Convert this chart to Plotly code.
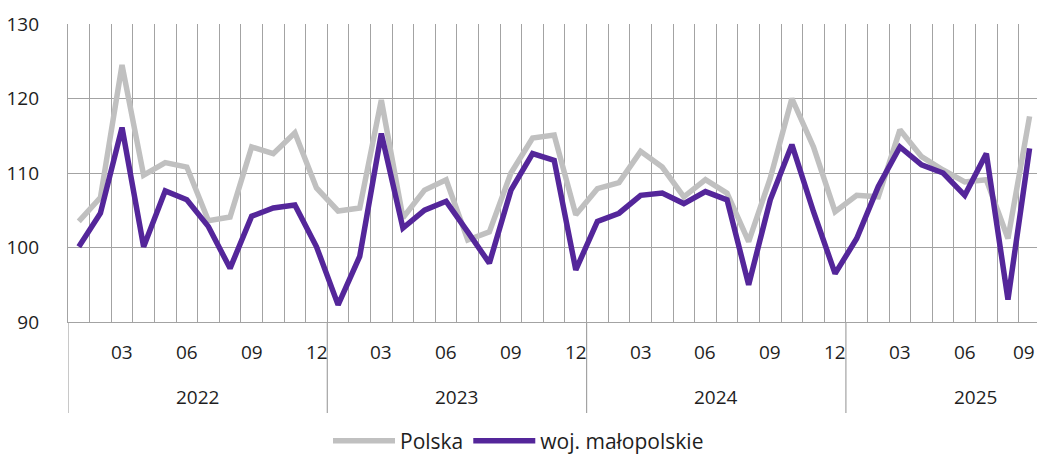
import plotly.graph_objects as go

years = ["2022", "2023", "2024", "2025"]
months = ["01", "02", "03", "04", "05", "06", "07", "08", "09", "10", "11", "12"]
n_points = 45
labelled_months = ["03", "06", "09", "12"]

polska = [103.5, 106.7, 124.5, 109.7, 111.4, 110.8, 103.6, 104.1, 113.5, 112.6, 115.4, 108.0,
          104.9, 105.3, 119.8, 104.0, 107.7, 109.1, 101.0, 102.1, 110.0, 114.7, 115.1, 104.4,
          107.9, 108.7, 112.9, 110.8, 106.8, 109.1, 107.3, 100.8, 109.3, 120.0, 113.5, 104.8,
          107.0, 106.8, 115.8, 112.2, 110.4, 108.8, 109.1, 101.2, 117.6]
malopolskie = [100.1, 104.6, 116.1, 100.1, 107.6, 106.4, 102.8, 97.2, 104.2, 105.3, 105.7, 100.1,
               92.3, 98.8, 115.3, 102.6, 105.0, 106.2, 102.1, 97.9, 107.7, 112.6, 111.7, 97.0,
               103.5, 104.6, 107.0, 107.3, 105.9, 107.5, 106.4, 95.0, 106.4, 113.8, 104.8, 96.5,
               101.2, 108.2, 113.5, 111.1, 110.0, 107.0, 112.6, 93.0, 113.3]

x = list(range(n_points))

GRID = "#a3a3a3"
TXT = "#1e1e1e"
FONT = "Open Sans, Noto Sans, sans-serif"

fig = go.Figure()
fig.add_trace(go.Scatter(x=x, y=polska, mode="lines", name="Polska",
                         line=dict(color="#c0c0c0", width=5.5)))
fig.add_trace(go.Scatter(x=x, y=malopolskie, mode="lines", name="woj. małopolskie",
                         line=dict(color="#54269a", width=5.5)))

W, H = 1037, 456
ml, mt, mb = 68, 24, 134
month_px = 259.3 / 12
x_end = -0.5 + (W - ml) / month_px

annotations = []
for i in x:
    m = months[i % 12]
    if m in labelled_months:
        ann = dict(x=i, y=0, xref="x", yref="paper", text=m, showarrow=False,
                   yanchor="middle", yshift=-30,
                   font=dict(size=19, color=TXT, family=FONT))
        if i == n_points - 1:
            ann.update(xanchor="right", xshift=7)
        annotations.append(ann)
shapes = []
plot_h = H - mt - mb
for k, yr in enumerate(years):
    start = 12 * k
    annotations.append(dict(x=start - 0.5 + 6, y=0, xref="x", yref="paper", text=yr,
                            showarrow=False, yanchor="middle", yshift=-75,
                            font=dict(size=19, color=TXT, family=FONT)))
    shapes.append(dict(type="line", xref="x", yref="paper", x0=start - 0.5, x1=start - 0.5,
                       y0=0, y1=-(413 - 322) / plot_h, line=dict(color=GRID, width=1.2)))

fig.update_layout(
    width=W, height=H,
    margin=dict(l=ml, r=0, t=mt, b=mb, autoexpand=False),
    paper_bgcolor="white", plot_bgcolor="white",
    font=dict(family=FONT, color=TXT, size=19),
    showlegend=True,
    legend=dict(orientation="h", xref="container", x=0.5, xanchor="center",
                y=-(441 - 322) / plot_h, yanchor="middle",
                font=dict(size=21, color=TXT, family=FONT),
                itemwidth=62, tracegroupgap=0),
    xaxis=dict(range=[-0.5, x_end], showgrid=True, gridcolor=GRID, gridwidth=1,
               tick0=0.5, dtick=1, showticklabels=False, zeroline=False, automargin=False,
               showline=True, linecolor=GRID, linewidth=1.2, ticks=""),
    yaxis=dict(range=[90, 130], tickvals=[90, 100, 110, 120, 130], showgrid=True,
               gridcolor=GRID, gridwidth=1, zeroline=False, showline=True, linecolor=GRID,
               linewidth=1.2, ticks="", ticklabelstandoff=24, automargin=False,
               tickfont=dict(size=19, color=TXT, family=FONT)),
    annotations=annotations,
    shapes=shapes,
)

fig.write_html("out.html", config={"displayModeBar": False},
               post_script="document.body.style.margin='0';")
